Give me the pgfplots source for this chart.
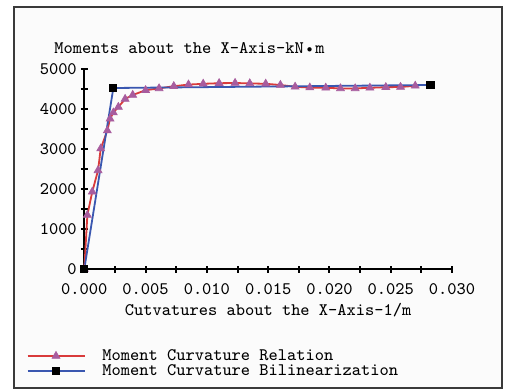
\documentclass[border=0pt]{standalone}
\usepackage{pgfplots}
\pgfplotsset{compat=1.18}
\definecolor{redline}{HTML}{D93B3B}
\definecolor{trimark}{HTML}{A85C9E}
\definecolor{blueline}{HTML}{3A57B0}
\definecolor{framegray}{HTML}{3A3A3A}
\definecolor{bggray}{HTML}{FBFBFB}
\begin{document}
\begin{tikzpicture}
\fill[white] (-42.15pt,-60.5pt) rectangle (210.85pt,134.5pt);
\fill[bggray] (-35.15pt,-59.5pt) rectangle (208.85pt,131pt);
\draw[framegray,line width=0.8pt] (-35.15pt,-59.5pt) rectangle (208.85pt,131pt);
\begin{axis}[
  at={(0pt,0pt)}, anchor=origin,
  scale only axis,
  width=183.85pt, height=100pt,
  xmin=0, xmax=0.03, ymin=0, ymax=5000,
  axis lines*=left,
  axis line style={black, line width=1pt},
  xtick={0,0.005,...,0.0301},
  minor xtick={0.0025,0.0075,0.0125,0.0175,0.0225,0.0275},
  ytick={0,1000,...,5000},
  minor ytick={500,1500,2500,3500,4500},
  tick align=center,
  major tick length=3.5pt, minor tick length=3.5pt,
  every tick/.style={black, line width=1pt},
  scaled x ticks=false,
  xticklabel style={/pgf/number format/.cd, fixed, fixed zerofill, precision=3, assume math mode=true, /tikz/.cd, yshift=-2pt},
  yticklabel style={/pgf/number format/.cd, 1000 sep={}, assume math mode=true, /tikz/.cd, xshift=1.5pt},
  tick label style={font=\fontsize{8.8}{10}\ttfamily},
  xlabel={Cutvatures about the X-Axis-1/m},
  xlabel style={font=\fontsize{8.8}{10}\ttfamily, yshift=2.5pt},
  clip=false,
  legend style={at={(axis description cs:-0.158,-0.395)}, anchor=north west,
    draw=none, fill=none, font=\fontsize{8.8}{10}\ttfamily,
    row sep=0pt, column sep=8.5pt, inner sep=0pt,
    nodes={inner sep=0pt, text height=5.8pt, text depth=1.8pt}},
  legend cell align=left,
  legend image code/.code={\draw[mark repeat=2,mark phase=2,#1] plot coordinates {(0pt,0pt) (14.25pt,0pt) (28.5pt,0pt)};},
]
\addplot[redline, line width=0.9pt, mark=triangle*, mark size=2.3pt,
  mark options={fill=trimark, draw=trimark, line width=0.3pt}] coordinates {
(0,0) (0.00025,1350) (0.00065,1930) (0.00112,2465) (0.00134,3010)
(0.00188,3460) (0.00210,3755) (0.00237,3910) (0.00278,4050) (0.00333,4250)
(0.00395,4350) (0.0050,4470) (0.0061,4515) (0.0073,4570) (0.0085,4610)
(0.0097,4630) (0.0110,4645) (0.0123,4650) (0.0135,4640) (0.0148,4630)
(0.0160,4600) (0.0172,4555) (0.0184,4535) (0.0197,4530) (0.0209,4515)
(0.0221,4515) (0.0233,4530) (0.0246,4545) (0.0258,4550) (0.0270,4580)
};
\addlegendentry{Moment Curvature Relation}
\addplot[blueline, line width=0.9pt, mark=square*, mark size=1.6pt,
  mark options={fill=black, draw=black}] coordinates {
(0,0) (0.00237,4525) (0.02824,4600)
};
\addlegendentry{Moment Curvature Bilinearization}
\end{axis}
\node[anchor=west, inner sep=0pt, font=\fontsize{8.8}{10}\ttfamily] at (-15.15pt,110.5pt) {Moments about the X-Axis-kN\,\raisebox{0.15ex}{\scalebox{0.6}{$\bullet$}}\,m};
\end{tikzpicture}
\end{document}
